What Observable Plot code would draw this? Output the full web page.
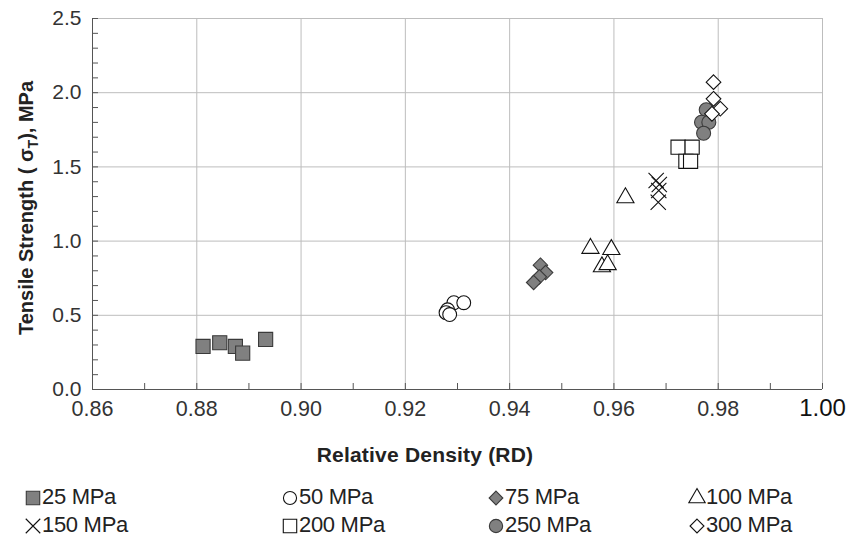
<!DOCTYPE html>
<html><head><meta charset="utf-8">
<script src="https://cdn.jsdelivr.net/npm/d3@7"></script>
<script src="https://cdn.jsdelivr.net/npm/@observablehq/plot@0.6"></script>
<style>
body{margin:0;background:#fff;font-family:"Liberation Sans",Arial,sans-serif;}
#wrap{position:relative;width:862px;height:539px;overflow:hidden;}
#legend{position:absolute;left:0;top:484px;width:862px;height:55px;}
.item{position:absolute;display:flex;align-items:center;font-size:22px;color:#222;white-space:nowrap;letter-spacing:-0.3px;}
.item svg{margin-right:0px;}
</style></head><body><div id="wrap"><div id="chart"></div><div id="legend"></div></div>
<script>
// ---- data ----
const seriesNames = ["25 MPa","50 MPa","75 MPa","100 MPa","150 MPa","200 MPa","250 MPa","300 MPa"];
const rd25 = [0.8812,0.8844,0.8874,0.8888,0.8932];
const ts25 = [0.290,0.315,0.290,0.245,0.337];
const rd50 = [0.9293,0.9312,0.9281,0.9278,0.9285];
const ts50 = [0.585,0.585,0.537,0.518,0.505];
const rd75 = [0.9459,0.9469,0.9457,0.9446];
const ts75 = [0.838,0.788,0.759,0.721];
const rd100 = [0.9622,0.9555,0.9595,0.9577,0.9588];
const ts100 = [1.292,0.951,0.943,0.827,0.841];
const rd150 = [0.9681,0.9687,0.9686,0.9685];
const ts150 = [1.408,1.381,1.341,1.262];
const rd200 = [0.9723,0.9750,0.9738,0.9747];
const ts200 = [1.633,1.633,1.538,1.538];
const rd250 = [0.9777,0.9768,0.9782,0.9772];
const ts250 = [1.885,1.801,1.801,1.727];
const rd300 = [0.9791,0.9791,0.9804,0.9788];
const ts300 = [2.071,1.959,1.892,1.858];
const xTickLabels = [0.86,0.88,0.90,0.92,0.94,0.96,0.98];
const xLastLabel = [1.00];
const yTickLabels = [0.0,0.5,1.0,1.5,2.0,2.5];

// ---- styles ----
const rdAll = [rd25,rd50,rd75,rd100,rd150,rd200,rd250,rd300];
const tsAll = [ts25,ts50,ts75,ts100,ts150,ts200,ts250,ts300];
const symbols = ["square2","circle","diamond2","triangle2","times","square2","circle","diamond2"];
const fills = ["#808080","#ffffff","#808080","#ffffff","none","#ffffff","#808080","#ffffff"];
const strokes = ["#3a3a3a","#111","#3a3a3a","#111","#111","#111","#3a3a3a","#111"];
const radii = [9.0,6.9,6.5,8.2,7.0,9.0,7.0,6.6];

const series = seriesNames.map((name,i)=>rdAll[i].map((rd,j)=>({name, rd, ts: tsAll[i][j]})));

const W = 862, H = 474;
const xMinor = d3.range(86,101).map(d=>d/100);
const yMinor = d3.range(0,26).map(d=>d/10);

const plot = Plot.plot({
  width: W, height: H,
  marginLeft: 92, marginRight: 40, marginTop: 18, marginBottom: H-389,
  style: {fontFamily: '"Liberation Sans", Arial, sans-serif', background: "#fff", overflow: "visible"},
  x: {domain: [0.86, 1.00]},
  y: {domain: [0, 2.5]},
  marks: [
    Plot.ruleX(xMinor.filter((d,i)=>i%2===0 && i>0), {stroke: "#bdbdbd", strokeWidth: 1}),
    Plot.ruleY(yTickLabels.filter(d=>d>0), {stroke: "#bdbdbd", strokeWidth: 1}),
    Plot.axisX({ticks: xMinor, tickSize: 6, dy: -6, tickFormat: () => "", label: null, stroke: "#555"}),
    Plot.axisY({ticks: yMinor, tickSize: 6, dx: 6, tickFormat: () => "", label: null, stroke: "#555"}),
    Plot.ruleX([0.86], {stroke: "#555"}),
    Plot.ruleY([0], {stroke: "#555"}),
    Plot.axisX({ticks: xTickLabels, tickSize: 0, tickPadding: 11, tickFormat: d3.format(".2f"), label: null, fontSize: 21.5, fill: "#333"}),
    Plot.axisX({ticks: xLastLabel, tickSize: 0, tickPadding: 9, tickFormat: d3.format(".2f"), label: null, fontSize: 24, fill: "#111"}),
    Plot.axisY({ticks: yTickLabels, tickSize: 0, tickPadding: 11, tickFormat: d3.format(".1f"), label: null, fontSize: 21, fill: "#333"}),
    ...series.map((data,i)=>Plot.dot(data, {x: "rd", y: "ts", symbol: () => symbols[i], r: radii[i], fill: fills[i], stroke: strokes[i], strokeWidth: 1.1}))
  ],
  symbol: {type: "identity"}
});
document.getElementById("chart").appendChild(plot);

// axis titles
const svg = d3.select(plot);
const yt = svg.append("text")
  .attr("transform", "translate(33,208) rotate(-90)")
  .attr("text-anchor", "middle")
  .attr("font-size", 20).attr("font-weight", "bold").attr("fill", "#222");
yt.append("tspan").text("Tensile Strength ( σ");
yt.append("tspan").text("T").attr("font-size", 14).attr("dy", 5);
yt.append("tspan").text("), MPa").attr("dy", -5);
svg.append("text")
  .attr("x", 425).attr("y", 462)
  .attr("text-anchor", "middle")
  .attr("font-size", 21).attr("font-weight", "bold").attr("fill", "#222")
  .attr("letter-spacing", "0.2px")
  .text("Relative Density (RD)");

// legend
const legend = d3.select("#legend");
const colX = [24, 281, 487, 688];
const rowY = [0, 28];
const symMap = {square2: d3.symbolSquare2, circle: d3.symbolCircle, diamond2: d3.symbolDiamond2, triangle2: d3.symbolTriangle2, times: d3.symbolTimes};
seriesNames.forEach((name,i)=>{
  const col = i%4, row = Math.floor(i/4);
  const it = legend.append("div").attr("class","item")
    .style("left", colX[col]+"px").style("top", rowY[row]+"px");
  const s = it.append("svg").attr("width",18).attr("height",26);
  s.append("path")
    .attr("transform","translate(9,14)")
    .attr("d", d3.symbol(symMap[symbols[i]], Math.PI*(radii[i]*0.95)**2)())
    .attr("fill", fills[i]).attr("stroke", strokes[i]).attr("stroke-width", 1.1);
  it.append("span").text(name);
});
</script>
</body></html>
